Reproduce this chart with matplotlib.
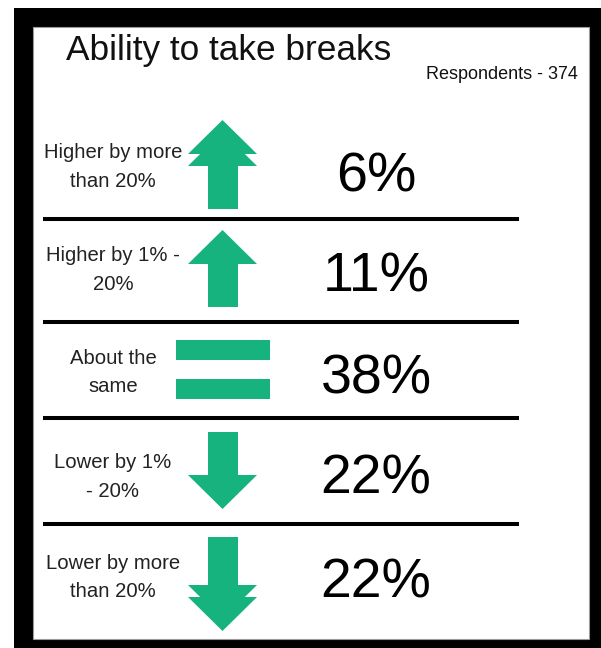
import matplotlib.pyplot as plt
from matplotlib.patches import Rectangle, Polygon

# Survey answers: change in ability to take breaks
categories = [
    "Higher by more\nthan 20%",
    "Higher by 1% -\n20%",
    "About the\nsame",
    "Lower by 1%\n- 20%",
    "Lower by more\nthan 20%",
]
shares = [6, 11, 38, 22, 22]
# arrow heads per row: sign = direction, size = number of heads (0 -> equals sign)
heads = [2, 1, 0, -1, -2]

title = "Ability to take breaks"
respondents = 374

GREEN = '#16b37e'
FONT = 'Liberation Sans'

# layout in pixel units (y grows downward)
separators = [219, 322, 418, 524]
label_x = 113
label_baselines = [(158, 187), (261, 290), (364, 392), (468, 497), (569, 597)]
value_x = 376
value_baselines = [192, 291, 394, 494, 597]
icon_spans = [(120, 209), (230, 307), (340, 399), (432, 509), (537, 631)]
icon_x = 222.5
head_half = 34.5
stem_half = 15
head_h = 34
head_step = 12

fig = plt.figure(figsize=(6.01, 6.48), dpi=100)
ax = fig.add_axes([0, 0, 1, 1])
ax.set_xlim(0, 601)
ax.set_ylim(648, 0)
ax.axis('off')

# black frame with white panel
ax.add_patch(Rectangle((14, 8), 587, 640, facecolor='black', edgecolor='none'))
ax.add_patch(Rectangle((33, 27), 556, 612, facecolor='white',
                       edgecolor='#9a9a9a', lw=0.8))

ax.text(66, 60, title, fontsize=25.4, family=FONT, color='#111111')
ax.text(578, 79, f"Respondents - {respondents}", fontsize=13, family=FONT,
        color='#111111', ha='right')

for y in separators:
    ax.plot([43, 519], [y, y], color='black', lw=2.9, solid_capstyle='butt')


def draw_arrow(top, bottom, n):
    up = n > 0
    n = abs(n)
    sgn = 1 if up else -1
    tip = top if up else bottom
    for k in range(n):
        apex = tip + sgn * k * head_step
        base = apex + sgn * head_h
        ax.add_patch(Polygon([(icon_x, apex), (icon_x - head_half, base),
                              (icon_x + head_half, base)],
                             closed=True, facecolor=GREEN, edgecolor='none'))
    stem_start = tip + sgn * ((n - 1) * head_step + head_h - 1)
    stem_end = bottom if up else top
    y0, y1 = sorted([stem_start, stem_end])
    ax.add_patch(Rectangle((icon_x - stem_half, y0), 2 * stem_half, y1 - y0,
                           facecolor=GREEN, edgecolor='none'))


def draw_equals(top, bottom):
    bar_h = 20
    for y in (top, bottom - bar_h):
        ax.add_patch(Rectangle((176, y), 94, bar_h, facecolor=GREEN,
                               edgecolor='none'))


for cat, val, n, lb, vb, (top, bottom) in zip(categories, shares, heads,
                                              label_baselines, value_baselines,
                                              icon_spans):
    for line, yb in zip(cat.split('\n'), lb):
        ax.text(label_x, yb, line, fontsize=14.6, family=FONT, color='#222222',
                ha='center', va='baseline')
    ax.text(value_x, vb, f"{val}%", fontsize=40, family=FONT, color='black',
            ha='center', va='baseline')
    if n == 0:
        draw_equals(top, bottom)
    else:
        draw_arrow(top, bottom, n)

fig.savefig('out.png', dpi=100, facecolor='white')
